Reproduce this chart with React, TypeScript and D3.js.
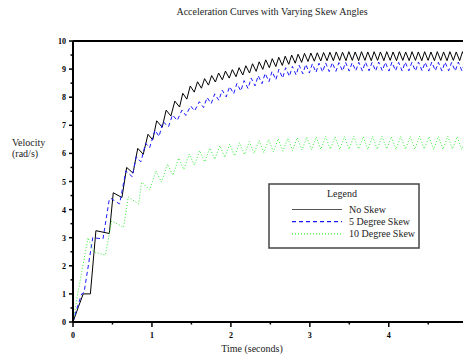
import React from "react";
import * as d3 from "d3";

const W = 463;
const H = 356;

const title = "Acceleration Curves with Varying Skew Angles";
const xLabel = "Time (seconds)";
const yLabelLines = ["Velocity", "(rad/s)"];
const seriesNames = ["No Skew", "5 Degree Skew", "10 Degree Skew"];
const xMajorTicks = [0, 1, 2, 3, 4];
const xMinorTicks = [0.5, 1.5, 2.5, 3.5, 4.5];
const yMajorTicks = [0, 1, 2, 3, 4, 5, 6, 7, 8, 9, 10];
const yMinorTicks = [0.5, 1.5, 2.5, 3.5, 4.5, 5.5, 6.5, 7.5, 8.5, 9.5];

const noSkew: [number, number][] = [
  [0, 0], [0.07, 0.55], [0.13, 1.0], [0.22, 1.0], [0.29, 3.25], [0.46, 3.15], [0.51, 4.6], [0.62, 4.43],
  [0.68, 5.5], [0.76, 5.3], [0.82, 6.18], [0.89, 5.97], [0.95, 6.68], [1.01, 6.48], [1.06, 7.16], [1.13, 6.93],
  [1.18, 7.54], [1.24, 7.33], [1.29, 7.86], [1.35, 7.65], [1.39, 8.14], [1.442, 7.93], [1.485, 8.40], [1.536, 8.18],
  [1.577, 8.55], [1.627, 8.32], [1.667, 8.66], [1.716, 8.43], [1.756, 8.77], [1.804, 8.54], [1.844, 8.86], [1.892, 8.62],
  [1.931, 8.93], [1.979, 8.68], [2.018, 8.98], [2.065, 8.73], [2.104, 9.05], [2.151, 8.79], [2.189, 9.12], [2.236, 8.86],
  [2.274, 9.19], [2.320, 8.92], [2.358, 9.26], [2.404, 8.99], [2.441, 9.33], [2.487, 9.05], [2.524, 9.37], [2.569, 9.09],
  [2.606, 9.42], [2.651, 9.13], [2.688, 9.46], [2.733, 9.17], [2.770, 9.50], [2.815, 9.21], [2.851, 9.53], [2.896, 9.24],
  [2.932, 9.56], [2.977, 9.27], [3.013, 9.57], [3.057, 9.28], [3.094, 9.58], [3.138, 9.29], [3.174, 9.59], [3.218, 9.30],
  [3.254, 9.60], [3.298, 9.30], [3.334, 9.61], [3.378, 9.31], [3.414, 9.60], [3.458, 9.30], [3.494, 9.62], [3.538, 9.31],
  [3.574, 9.61], [3.618, 9.30], [3.654, 9.62], [3.698, 9.31], [3.734, 9.61], [3.778, 9.30], [3.814, 9.62], [3.858, 9.31],
  [3.894, 9.61], [3.938, 9.30], [3.974, 9.62], [4.018, 9.31], [4.054, 9.61], [4.098, 9.30], [4.134, 9.62], [4.178, 9.31],
  [4.214, 9.61], [4.258, 9.30], [4.294, 9.62], [4.338, 9.31], [4.374, 9.61], [4.418, 9.30], [4.454, 9.62], [4.498, 9.31],
  [4.534, 9.61], [4.578, 9.30], [4.614, 9.62], [4.658, 9.31], [4.694, 9.61], [4.738, 9.30], [4.774, 9.62], [4.818, 9.31],
  [4.854, 9.61], [4.898, 9.30], [4.934, 9.62], [4.978, 9.31],
];

const skew5: [number, number][] = [
  [0, 0], [0.04, 0.4], [0.11, 1.0], [0.14, 1.05], [0.25, 3.0], [0.38, 2.96], [0.46, 4.37], [0.48, 4.4],
  [0.59, 4.2], [0.67, 5.38], [0.75, 5.17], [0.80, 5.88], [0.86, 5.7], [0.92, 6.36], [0.97, 6.2], [1.04, 6.83],
  [1.09, 6.6], [1.14, 7.13], [1.21, 6.95], [1.26, 7.37], [1.32, 7.17], [1.38, 7.54], [1.43, 7.35], [1.49, 7.69],
  [1.54, 7.51], [1.60, 7.84], [1.654, 7.63], [1.698, 7.99], [1.751, 7.77], [1.795, 8.12], [1.847, 7.89], [1.890, 8.25],
  [1.941, 8.01], [1.984, 8.38], [2.035, 8.12], [2.076, 8.49], [2.126, 8.22], [2.167, 8.59], [2.217, 8.31], [2.257, 8.68],
  [2.306, 8.40], [2.346, 8.77], [2.394, 8.48], [2.434, 8.85], [2.482, 8.55], [2.521, 8.92], [2.569, 8.62], [2.608, 8.99],
  [2.655, 8.68], [2.694, 9.05], [2.741, 8.74], [2.779, 9.10], [2.826, 8.79], [2.864, 9.14], [2.911, 8.83], [2.948, 9.17],
  [2.994, 8.86], [3.032, 9.19], [3.078, 8.88], [3.116, 9.21], [3.162, 8.90], [3.200, 9.22], [3.246, 8.91], [3.284, 9.23],
  [3.330, 8.92], [3.368, 9.23], [3.414, 8.93], [3.452, 9.24], [3.498, 8.93], [3.536, 9.23], [3.582, 8.94], [3.620, 9.24],
  [3.666, 8.93], [3.704, 9.25], [3.750, 8.94], [3.788, 9.24], [3.834, 8.93], [3.872, 9.25], [3.918, 8.94], [3.956, 9.24],
  [4.002, 8.93], [4.040, 9.25], [4.086, 8.94], [4.124, 9.24], [4.170, 8.93], [4.208, 9.25], [4.254, 8.94], [4.292, 9.24],
  [4.338, 8.93], [4.376, 9.25], [4.422, 8.94], [4.460, 9.24], [4.506, 8.93], [4.544, 9.25], [4.590, 8.94], [4.628, 9.24],
  [4.674, 8.93], [4.712, 9.25], [4.758, 8.94], [4.796, 9.24], [4.842, 8.93], [4.880, 9.25], [4.926, 8.94], [4.964, 9.24],
];

const skew10: [number, number][] = [
  [0, 0], [0.06, 1.0], [0.19, 3.0], [0.26, 2.5], [0.41, 2.38], [0.49, 3.6], [0.64, 3.37], [0.70, 4.45],
  [0.83, 4.2], [0.87, 4.98], [0.97, 4.7], [1.05, 5.38], [1.12, 4.98], [1.197, 5.62], [1.265, 5.22], [1.338, 5.83],
  [1.403, 5.43], [1.473, 5.98], [1.537, 5.58], [1.605, 6.10], [1.668, 5.70], [1.734, 6.19], [1.796, 5.79], [1.861, 6.27],
  [1.922, 5.86], [1.987, 6.33], [2.047, 5.91], [2.111, 6.38], [2.171, 5.96], [2.234, 6.42], [2.294, 6.00], [2.357, 6.46],
  [2.417, 6.03], [2.479, 6.49], [2.538, 6.06], [2.600, 6.52], [2.659, 6.08], [2.721, 6.54], [2.780, 6.10], [2.841, 6.56],
  [2.900, 6.12], [2.961, 6.58], [3.020, 6.13], [3.080, 6.59], [3.140, 6.14], [3.200, 6.60], [3.259, 6.15], [3.319, 6.59],
  [3.378, 6.14], [3.438, 6.60], [3.497, 6.15], [3.557, 6.61], [3.616, 6.16], [3.676, 6.59], [3.735, 6.14], [3.795, 6.60],
  [3.854, 6.15], [3.914, 6.61], [3.973, 6.16], [4.033, 6.59], [4.092, 6.14], [4.152, 6.60], [4.211, 6.15], [4.271, 6.60],
  [4.330, 6.15], [4.390, 6.61], [4.449, 6.16], [4.509, 6.59], [4.568, 6.14], [4.628, 6.60], [4.687, 6.15], [4.747, 6.61],
  [4.806, 6.16], [4.866, 6.59], [4.925, 6.14], [4.985, 6.60],
];

const seriesData = [noSkew, skew5, skew10];
const seriesColors = ["#000000", "#1a1aff", "#33ee33"];
const seriesDash = ["none", "4,3", "1,2"];

const FONT = "'Liberation Serif', 'Times New Roman', Times, serif";

export default function App() {
  const left = 73, right = 463, top = 41, bottom = 322;
  const x = d3.scaleLinear().domain([0, 4.94]).range([left, right]);
  const y = d3.scaleLinear().domain([0, 10]).range([bottom, top]);
  const line = d3.line<[number, number]>().x((d) => x(d[0])).y((d) => y(d[1]));

  const lgX = 269, lgY = 184, lgW = 150, lgH = 64;

  return (
    <svg width={W} height={H} style={{ display: "block", position: "absolute", left: 0, top: 0, background: "#fff" }} fontFamily={FONT}>
      <defs>
        <clipPath id="plotclip">
          <rect x={left} y={top - 1} width={right - left} height={bottom - top + 1} />
        </clipPath>
      </defs>
      <rect x={0} y={0} width={W} height={H} fill="#fff" />
      <text x={272} y={15} fontSize={10} textAnchor="middle" fill="#222">{title}</text>
      <text x={12} y={146} fontSize={10} fill="#222">{yLabelLines[0]}</text>
      <text x={12} y={157} fontSize={10} fill="#222">{yLabelLines[1]}</text>
      <text x={252} y={352} fontSize={10} textAnchor="middle" fill="#222">{xLabel}</text>

      <g clipPath="url(#plotclip)">
        {seriesData.map((s, i) => (
          <path key={i} d={line(s) || ""} fill="none" stroke={seriesColors[i]} strokeWidth={1}
            strokeDasharray={seriesDash[i] === "none" ? undefined : seriesDash[i]} />
        ))}
      </g>

      {/* axes */}
      <line x1={left} y1={top} x2={right} y2={top} stroke="#000" strokeWidth={2} />
      <line x1={left} y1={top} x2={left} y2={bottom} stroke="#000" strokeWidth={2} />
      <line x1={left} y1={bottom} x2={right} y2={bottom} stroke="#000" strokeWidth={2} />

      {yMajorTicks.map((t) => (
        <g key={"ym" + t}>
          <line x1={left - 4} x2={left} y1={y(t)} y2={y(t)} stroke="#000" strokeWidth={1.5} />
          <text x={66} y={y(t) + 3} fontSize={8} fontWeight="bold" textAnchor="end">{t}</text>
        </g>
      ))}
      {yMinorTicks.map((t) => (
        <line key={"yn" + t} x1={left - 2.5} x2={left} y1={y(t)} y2={y(t)} stroke="#000" strokeWidth={1.5} />
      ))}
      {xMajorTicks.map((t) => (
        <g key={"xm" + t}>
          <line x1={x(t)} x2={x(t)} y1={bottom} y2={bottom + 5} stroke="#000" strokeWidth={1.5} />
          <text x={x(t)} y={338} fontSize={8} fontWeight="bold" textAnchor="middle">{t}</text>
        </g>
      ))}
      {xMinorTicks.map((t) => (
        <line key={"xn" + t} x1={x(t)} x2={x(t)} y1={bottom} y2={bottom + 2.5} stroke="#000" strokeWidth={1.5} />
      ))}

      {/* legend */}
      <rect x={lgX} y={lgY} width={lgW} height={lgH} fill="#fff" stroke="#444" strokeWidth={1.5} />
      <text x={342} y={197} fontSize={10} textAnchor="middle" fill="#222">Legend</text>
      {seriesNames.map((n, i) => (
        <g key={n}>
          <line x1={292} x2={342} y1={209.5 + i * 12.2} y2={209.5 + i * 12.2} stroke={i === 0 ? "#555" : seriesColors[i]}
            strokeWidth={1.2} strokeDasharray={seriesDash[i] === "none" ? undefined : seriesDash[i]} />
          <text x={349} y={213 + i * 12} fontSize={10} fill="#222">{n}</text>
        </g>
      ))}
    </svg>
  );
}
